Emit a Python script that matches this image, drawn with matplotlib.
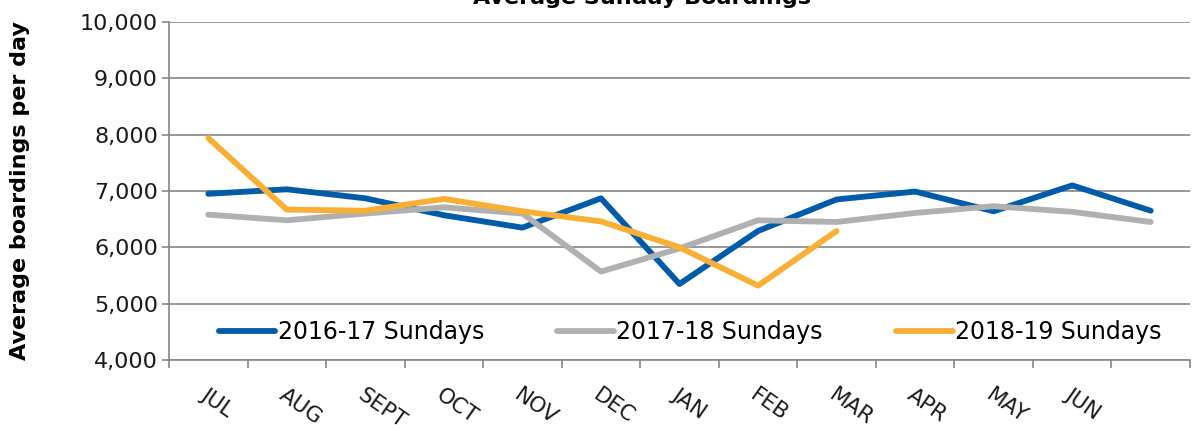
import matplotlib
matplotlib.use("Agg")
import matplotlib.pyplot as plt
import numpy as np

months = ["JUL", "AUG", "SEPT", "OCT", "NOV", "DEC", "JAN", "FEB", "MAR", "APR", "MAY", "JUN", ""]
s1617 = [6950, 7030, 6870, 6570, 6350, 6870, 5350, 6290, 6850, 6990, 6640, 7100, 6650]
s1718 = [6580, 6480, 6600, 6710, 6600, 5570, 5980, 6480, 6450, 6610, 6730, 6630, 6450]
s1819 = [7940, 6670, 6650, 6860, 6640, 6460, 6000, 5320, 6290]
series_names = ["2016-17 Sundays", "2017-18 Sundays", "2018-19 Sundays"]
colors = ["#005CA9", "#B0B0B0", "#F9AE34"]
yticks = [4000, 5000, 6000, 7000, 8000, 9000, 10000]

plt.rcParams['font.family'] = ['DejaVu Sans']
W, H = 1192, 430
fig = plt.figure(figsize=(W / 100, H / 100), dpi=100)
ax = fig.add_axes([169 / W, 1 - 360 / H, (1190 - 169) / W, (360 - 22) / H])

gc = "#868686"
x = np.arange(len(months))
for vals, name, c in zip([s1617, s1718, s1819], series_names, colors):
    ax.plot(x[:len(vals)], vals, color=c, lw=4.2, label=name,
            solid_capstyle='round', solid_joinstyle='round', zorder=3)

ax.set_xlim(-0.5, len(months) - 0.5)
ax.set_ylim(4000, 10000)
ax.set_yticks(yticks)
ax.set_yticklabels([f"{v:,}" for v in yticks], fontsize=16, color="#1a1a1a")
ax.yaxis.grid(True, color=gc, lw=1.2)
ax.set_axisbelow(True)

# category boundary ticks
ax.set_xticks(np.arange(-0.5, len(months), 1.0))
ax.set_xticklabels([])
ax.set_xticks(x, minor=True)
ax.set_xticklabels(months, minor=True, rotation=-35, ha='left',
                   rotation_mode='anchor', fontsize=15.5, color="#1a1a1a")
ax.tick_params(axis='x', which='major', length=6, color=gc, width=1.2)
ax.tick_params(axis='x', which='minor', length=0, pad=18)
ax.tick_params(axis='y', length=5, color=gc, width=1.2, pad=3)

for s in ['top', 'right']:
    ax.spines[s].set_visible(False)
for s in ['left', 'bottom']:
    ax.spines[s].set_color(gc)
    ax.spines[s].set_linewidth(1.2)

ax.set_ylabel("Average boardings per day", fontsize=16, fontweight='bold')
ax.yaxis.set_label_coords(-(169 - 30) / (1190 - 169), 0.5)

leg = fig.legend(loc='center', bbox_to_anchor=(690 / W, 1 - 332 / H), ncol=3,
                 frameon=False, fontsize=17, handlelength=2.4, handletextpad=0.1,
                 columnspacing=3.1)

fig.text(642 / W, 1 - 4 / H, "Average Sunday Boardings", ha='center', va='baseline',
         fontsize=16, fontweight='bold')

fig.savefig("out.png", dpi=100)
